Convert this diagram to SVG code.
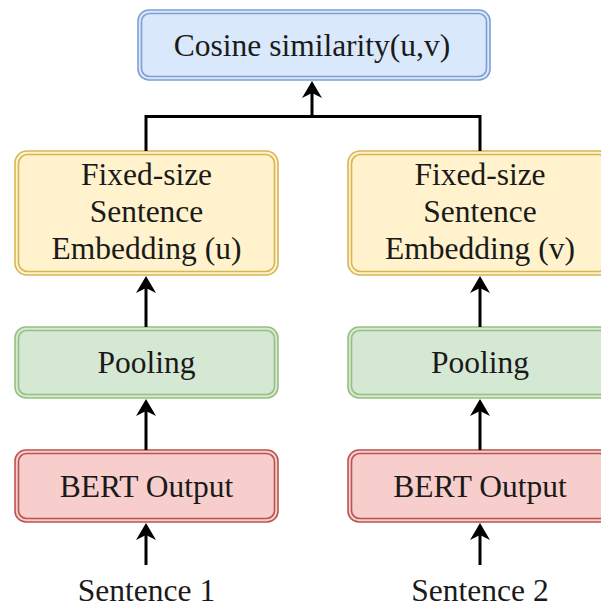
<svg xmlns="http://www.w3.org/2000/svg" width="601" height="608" viewBox="0 0 601 608">
  <style>
    .lbl { font-family: "Liberation Serif", "Times New Roman", serif; font-size: 31.5px; fill: #1a1a1a; text-anchor: middle; }
    .outer, .inner { stroke-width: 1.6; }
    .blue .outer, .blue .inner { fill: #dae8fc; stroke: #7f9fd0; }
    .yellow .outer, .yellow .inner { fill: #fff2cc; stroke: #d6b656; }
    .green .outer, .green .inner { fill: #d5e8d4; stroke: #97c080; }
    .red .outer, .red .inner { fill: #f8cecc; stroke: #b85450; }
    .edge { fill: none; stroke: #000; stroke-width: 3; }
  </style>
  <defs>
    <marker id="arrow" markerUnits="userSpaceOnUse" markerWidth="18" markerHeight="20" viewBox="0 0 18 20" refX="5" refY="10" orient="auto">
      <path d="M17,10 L0,0 L5,10 L0,20 Z" fill="#000"/>
    </marker>
  </defs>

  <!-- top: similarity -->
  <g id="cosine" class="blue">
    <rect class="outer" x="138" y="10" width="352" height="70" rx="11"/>
    <rect class="inner" x="141.5" y="13.5" width="345" height="63" rx="8"/>
    <text class="lbl" x="312" y="56">Cosine similarity(u,v)</text>
  </g>

  <!-- left column -->
  <g id="embed-u" class="yellow">
    <rect class="outer" x="15" y="151" width="263" height="124" rx="12"/>
    <rect class="inner" x="18.5" y="154.5" width="256" height="117" rx="9"/>
    <text class="lbl" x="146.5" y="185">Fixed-size</text>
    <text class="lbl" x="146.5" y="222">Sentence</text>
    <text class="lbl" x="146.5" y="259">Embedding (u)</text>
  </g>
  <g id="pool-1" class="green">
    <rect class="outer" x="15" y="327" width="263" height="71" rx="11"/>
    <rect class="inner" x="18.5" y="330.5" width="256" height="64" rx="8"/>
    <text class="lbl" x="146.5" y="373">Pooling</text>
  </g>
  <g id="bert-1" class="red">
    <rect class="outer" x="15" y="450" width="263" height="72" rx="11"/>
    <rect class="inner" x="18.5" y="453.5" width="256" height="65" rx="8"/>
    <text class="lbl" x="146.5" y="497">BERT Output</text>
  </g>
  <g id="sentence-1">
    <text class="lbl" x="146.5" y="601">Sentence 1</text>
  </g>

  <!-- right column -->
  <g id="embed-v" class="yellow">
    <rect class="outer" x="348" y="151" width="263" height="124" rx="12"/>
    <rect class="inner" x="351.5" y="154.5" width="256" height="117" rx="9"/>
    <text class="lbl" x="480" y="185">Fixed-size</text>
    <text class="lbl" x="480" y="222">Sentence</text>
    <text class="lbl" x="480" y="259">Embedding (v)</text>
  </g>
  <g id="pool-2" class="green">
    <rect class="outer" x="348" y="327" width="263" height="71" rx="11"/>
    <rect class="inner" x="351.5" y="330.5" width="256" height="64" rx="8"/>
    <text class="lbl" x="480" y="373">Pooling</text>
  </g>
  <g id="bert-2" class="red">
    <rect class="outer" x="348" y="450" width="263" height="72" rx="11"/>
    <rect class="inner" x="351.5" y="453.5" width="256" height="65" rx="8"/>
    <text class="lbl" x="480" y="497">BERT Output</text>
  </g>
  <g id="sentence-2">
    <text class="lbl" x="480" y="601">Sentence 2</text>
  </g>

  <!-- connectors -->
  <g id="connectors">
    <polyline class="edge" points="146,151 146,116.5 480,116.5 480,151"/>
    <line class="edge" x1="312" y1="116.5" x2="312" y2="93" marker-end="url(#arrow)"/>
    <line class="edge" x1="146" y1="327" x2="146" y2="288" marker-end="url(#arrow)"/>
    <line class="edge" x1="480" y1="327" x2="480" y2="288" marker-end="url(#arrow)"/>
    <line class="edge" x1="146" y1="450" x2="146" y2="411" marker-end="url(#arrow)"/>
    <line class="edge" x1="480" y1="450" x2="480" y2="411" marker-end="url(#arrow)"/>
    <line class="edge" x1="146" y1="565" x2="146" y2="535" marker-end="url(#arrow)"/>
    <line class="edge" x1="480" y1="565" x2="480" y2="535" marker-end="url(#arrow)"/>
  </g>
</svg>
